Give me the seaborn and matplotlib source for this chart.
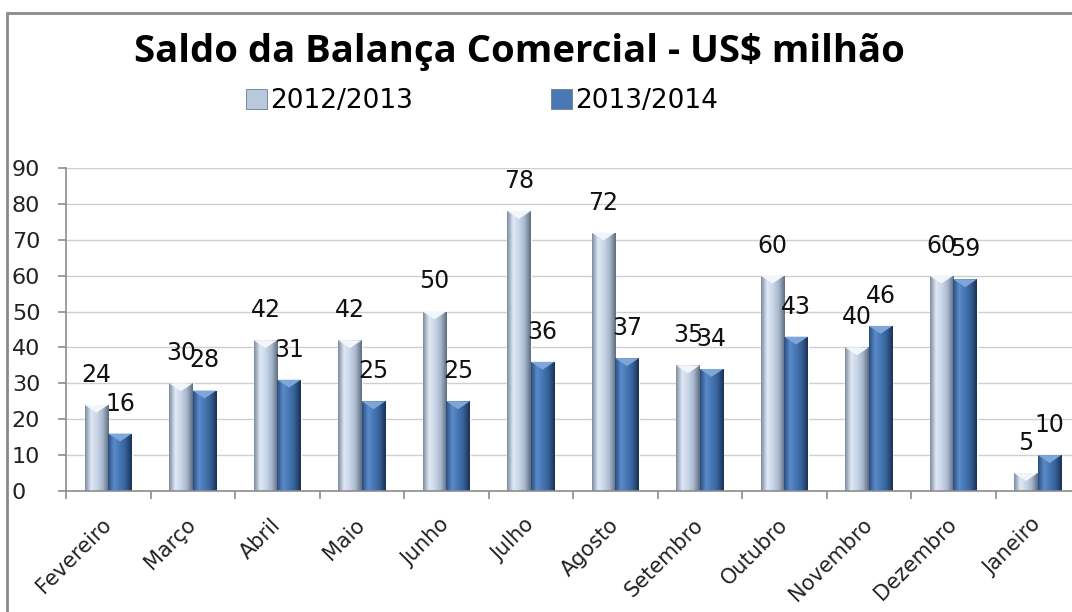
import numpy as np
import pandas as pd
import matplotlib
matplotlib.use("Agg")
import matplotlib.pyplot as plt
from matplotlib.colors import LinearSegmentedColormap
from matplotlib.patches import Rectangle, Polygon
import seaborn as sns

# Saldo da balanca comercial por mes (US$ milhao)
meses = ['Fevereiro', 'Março', 'Abril', 'Maio', 'Junho', 'Julho', 'Agosto',
         'Setembro', 'Outubro', 'Novembro', 'Dezembro', 'Janeiro']
safras = ['2012/2013', '2013/2014']
saldo_1213 = [24, 30, 42, 42, 50, 78, 72, 35, 60, 40, 60, 5]
saldo_1314 = [16, 28, 31, 25, 25, 36, 37, 34, 43, 46, 59, 10]

df = pd.DataFrame({
    'mes': meses * 2,
    'safra': [safras[0]] * len(meses) + [safras[1]] * len(meses),
    'valor': saldo_1213 + saldo_1314,
})

sns.set_style('white')
plt.rcParams['font.family'] = ['DejaVu Sans']

cores = ['#b9c8dc', '#4a78b3']
# gradientes horizontais para imitar o efeito 3D do Excel
grad_claro = LinearSegmentedColormap.from_list(
    'claro', ['#7d8ca2', '#dfe8f4', '#c9d6e8', '#a7b6cb', '#5f6d80'])
grad_escuro = LinearSegmentedColormap.from_list(
    'escuro', ['#2b4e80', '#5a8bca', '#4676b4', '#355f95', '#1a3153'])

W, H = 1072, 612
fig = plt.figure(figsize=(W / 100, H / 100), dpi=100)
ax = fig.add_axes([66 / W, 121 / H, (1080 - 66) / W, (491 - 168) / H])

sns.barplot(data=df, x='mes', y='valor', hue='safra', palette=cores,
            width=0.56, gap=0, saturation=1, legend=False, ax=ax)

ax.set_ylim(0, 90)
ax.set_xlim(-0.5, 11.5)
ax.set_yticks(range(0, 91, 10))
ax.yaxis.grid(True, color='#cfcfcf', linewidth=1)
ax.set_axisbelow(True)
ax.set_xlabel('')
ax.set_ylabel('')
for s in ['top', 'right']:
    ax.spines[s].set_visible(False)
for s in ['left', 'bottom']:
    ax.spines[s].set_color('#8c8c8c')
    ax.spines[s].set_linewidth(1.2)

# ticks
ax.tick_params(axis='y', length=6, width=1.2, color='#8c8c8c', pad=33,
               labelsize=16, labelcolor='#222222', left=True)
for lab in ax.get_yticklabels():
    lab.set_horizontalalignment('left')
ax.set_xticks(np.arange(-0.5, 12, 1), minor=True)
ax.tick_params(axis='x', which='minor', length=6, width=1.2,
               color='#8c8c8c', bottom=True)
ax.tick_params(axis='x', which='major', length=0, pad=22, labelsize=15,
               labelcolor='#222222')
ax.set_xticks(range(len(meses)))
ax.set_xticklabels(meses, rotation=45, ha='right', va='center',
                   rotation_mode='anchor')

# gradiente e chanfro no topo das barras
grad = np.linspace(0, 1, 64).reshape(1, -1)
for cont, cmap, topo in zip(ax.containers, [grad_claro, grad_escuro],
                            ['#f2f6fb', '#7fa6d8']):
    for p in cont.patches:
        x0, y0 = p.get_x(), p.get_y()
        w, h = p.get_width(), p.get_height()
        im = ax.imshow(grad, cmap=cmap, aspect='auto',
                       extent=(x0, x0 + w, y0, y0 + h), zorder=2)
        im.set_clip_path(p)
        d = min(2.2, h * 0.5)
        ax.add_patch(Polygon([(x0, h), (x0 + w, h), (x0 + w / 2, h - d)],
                             closed=True, facecolor=topo, edgecolor='none',
                             zorder=3))
ax.set_xlim(-0.5, 11.5)
ax.set_ylim(0, 90)

# rotulos de dados
for cont, vals in zip(ax.containers, [saldo_1213, saldo_1314]):
    ax.bar_label(cont, labels=[str(v) for v in vals], padding=13,
                 fontsize=17, color='#111111')

# titulo e legenda
fig.text(519 / W, 1 - 52 / H, 'Saldo da Balança Comercial - US$ milhão',
         ha='center', va='center', fontsize=27.5, fontweight='bold',
         family='Open Sans', color='black')
handles = [Rectangle((0, 0), 1, 1, facecolor=c, edgecolor='#6b7a90',
                     linewidth=0.6) for c in cores]
fig.legend(handles, safras, loc='center', ncol=2, frameon=False,
           bbox_to_anchor=(482 / W, 1 - 101 / H), fontsize=19,
           handlelength=0.8, handleheight=0.8, handletextpad=0.12,
           columnspacing=5.2, labelcolor='black')

# moldura do grafico
fig.add_artist(Rectangle((7 / W, -0.1), 1.2, 1 - 13 / H + 0.1,
                         transform=fig.transFigure, fill=False,
                         edgecolor='#8a8a8a', linewidth=2))

fig.savefig('out.png', dpi=100)
